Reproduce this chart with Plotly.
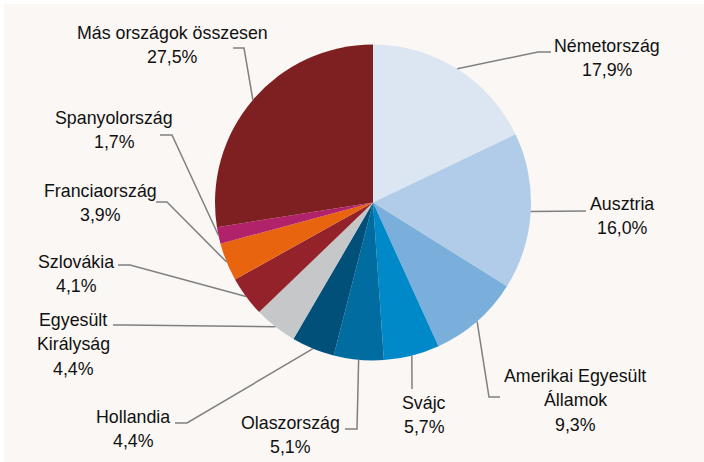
import math
import plotly.graph_objects as go

# ---- data ----
countries = ["Németország", "Ausztria", "Amerikai Egyesült Államok", "Svájc",
             "Olaszország", "Hollandia", "Egyesült Királyság", "Szlovákia",
             "Franciaország", "Spanyolország", "Más országok összesen"]
label_lines = [["Németország"], ["Ausztria"], ["Amerikai Egyesült", "Államok"], ["Svájc"],
               ["Olaszország"], ["Hollandia"], ["Egyesült", "Királyság"], ["Szlovákia"],
               ["Franciaország"], ["Spanyolország"], ["Más országok összesen"]]
shares = [17.9, 16.0, 9.3, 5.7, 5.1, 4.4, 4.4, 4.1, 3.9, 1.7, 27.5]

# ---- styles ----
colors = ["#DCE6F2", "#B0CCE8", "#7AAFDB", "#0089C8", "#006C9F", "#00507A",
          "#C6C7C9", "#94222A", "#E8640F", "#B2226B", "#7E1F22"]
# label centre (px) and leader-line elbow / end points (px)
label_pos = [(607, 58), (622, 216), (575, 400), (424, 415), (290, 435), (133, 429),
             (73, 344), (76, 274), (100, 203), (114, 130), (172, 45)]
leader_pts = [[(538, 52), (551, 52)], [(586, 211)], [(489, 397), (500, 397)],
              [(412, 389)], [(357, 429), (345, 429)], [(187, 423), (175, 423)],
              [(125, 325), (113, 325)], [(130, 265), (118, 265)],
              [(167, 202), (156, 202)], [(172, 135), (160, 135)],
              [(244, 48), (233, 48)]]
LINE_H = 24.5

W, H = 704, 462
CX, CY, R = 373, 202.5, 158


def px(x, y):
    return x / W, 1 - y / H


fig = go.Figure(go.Pie(
    labels=countries, values=shares, sort=False, direction="clockwise",
    rotation=0, textinfo="none", hoverinfo="label+percent",
    marker=dict(colors=colors, line=dict(width=0)),
    domain=dict(x=[(CX - R) / W, (CX + R) / W], y=[1 - (CY + R) / H, 1 - (CY - R) / H]),
    showlegend=False,
))

shapes = [dict(type="rect", xref="paper", yref="paper", x0=4 / W, x1=1, y0=0, y1=1 - 4 / H,
               fillcolor="#FAF7F4", line=dict(width=0), layer="below")]
annotations = []
total = sum(shares)
cum = 0.0
for i, v in enumerate(shares):
    mid = (cum + v / 2) / total * 2 * math.pi
    cum += v
    ex = CX + R * math.sin(mid)
    ey = CY - R * math.cos(mid)
    pts = [(ex, ey)] + leader_pts[i]
    path = "M " + " L ".join("%.4f,%.4f" % px(x, y) for x, y in pts)
    shapes.append(dict(type="path", xref="paper", yref="paper", path=path,
                       line=dict(color="#808080", width=1.5), layer="above"))
    pct = ("%.1f" % v).replace(".", ",") + "%"
    lines = label_lines[i] + [pct]
    n = len(lines)
    for k, t in enumerate(lines):
        lx, ly = px(label_pos[i][0], label_pos[i][1] + (k - (n - 1) / 2) * LINE_H)
        annotations.append(dict(x=lx, y=ly, xref="paper", yref="paper", xanchor="center",
                                yanchor="middle", showarrow=False, align="center", text=t,
                                font=dict(family="Liberation Sans, Arial", size=17.8,
                                          color="#111111")))

fig.update_layout(width=W, height=H, margin=dict(l=0, r=0, t=0, b=0),
                  paper_bgcolor="white", plot_bgcolor="white",
                  shapes=shapes, annotations=annotations)
fig.write_html("out.html", config={"displayModeBar": False},
               post_script="document.body.style.margin='0';")
